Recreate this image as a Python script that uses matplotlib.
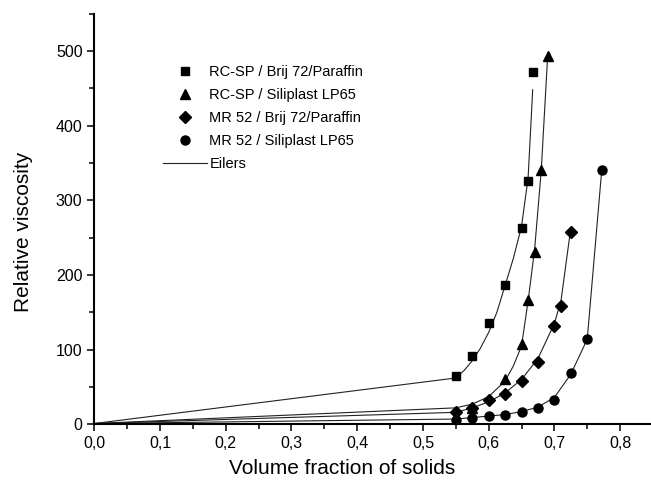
import matplotlib
matplotlib.use("Agg")
import matplotlib.pyplot as plt
from matplotlib.ticker import MultipleLocator, FuncFormatter
from matplotlib.lines import Line2D

plt.rcParams['font.family'] = ['Liberation Sans', 'DejaVu Sans']

# measured points
sq_x = [0.55, 0.575, 0.6, 0.625, 0.65, 0.66, 0.667]
sq_y = [65, 91, 135, 186, 263, 326, 472]

tri_x = [0.575, 0.625, 0.65, 0.66, 0.67, 0.68, 0.69]
tri_y = [22, 60, 107, 167, 231, 340, 493]

dia_x = [0.55, 0.575, 0.6, 0.625, 0.65, 0.675, 0.7, 0.71, 0.725]
dia_y = [17, 22, 33, 41, 58, 84, 131, 158, 257]

cir_x = [0.55, 0.575, 0.6, 0.625, 0.65, 0.675, 0.7, 0.725, 0.75, 0.772]
cir_y = [6, 9, 11, 12, 16, 22, 33, 69, 114, 341]

# Eilers fit curves
sq_fit_x = [0, 0.55, 0.5625, 0.575, 0.5875, 0.6, 0.6125, 0.625, 0.6375, 0.65, 0.66, 0.667]
sq_fit_y = [1, 62, 72, 85, 102, 123, 150, 186, 222, 265, 330, 448]

tri_fit_x = [0, 0.55, 0.575, 0.6, 0.625, 0.6375, 0.65, 0.66, 0.67, 0.68, 0.69]
tri_fit_y = [1, 22, 27, 37, 58, 78, 105, 165, 235, 340, 497]

dia_fit_x = [0, 0.55, 0.575, 0.6, 0.625, 0.65, 0.675, 0.7, 0.71, 0.723]
dia_fit_y = [1, 16, 22, 30, 42, 60, 88, 135, 165, 250]

cir_fit_x = [0, 0.55, 0.575, 0.6, 0.625, 0.65, 0.675, 0.7, 0.725, 0.75, 0.772]
cir_fit_y = [1, 7, 9, 11, 13, 17, 23, 36, 67, 114, 340]

labels = ["RC-SP / Brij 72/Paraffin", "RC-SP / Siliplast LP65",
          "MR 52 / Brij 72/Paraffin", "MR 52 / Siliplast LP65", "Eilers"]

fig = plt.figure(figsize=(6.51, 4.86), dpi=100)
ax = fig.add_axes([0.1449, 0.127, 0.8551, 0.845])

fit_kw = dict(color="#222222", lw=0.8, zorder=2)
ax.plot(sq_fit_x, sq_fit_y, **fit_kw)
ax.plot(tri_fit_x, tri_fit_y, **fit_kw)
ax.plot(dia_fit_x, dia_fit_y, **fit_kw)
ax.plot(cir_fit_x, cir_fit_y, **fit_kw)

ax.plot(sq_x, sq_y, "s", color="black", ms=6, zorder=3)
ax.plot(tri_x, tri_y, "^", color="black", ms=7.5, zorder=3)
ax.plot(dia_x, dia_y, "D", color="black", ms=6, zorder=3)
ax.plot(cir_x, cir_y, "o", color="black", ms=6.5, zorder=3)

ax.set_xlim(0, 0.847)
ax.set_ylim(0, 550)

for s in ["top", "right"]:
    ax.spines[s].set_visible(False)
for s in ["left", "bottom"]:
    ax.spines[s].set_linewidth(1.5)

ax.xaxis.set_major_locator(MultipleLocator(0.1))
ax.xaxis.set_minor_locator(MultipleLocator(0.05))
ax.yaxis.set_major_locator(MultipleLocator(100))
ax.yaxis.set_minor_locator(MultipleLocator(50))
ax.xaxis.set_major_formatter(FuncFormatter(lambda v, p: f"{v:.1f}".replace(".", ",")))
ax.tick_params(which="major", direction="out", length=5, width=1.1, labelsize=11.5)
ax.tick_params(which="minor", direction="out", length=3.5, width=1.1)

ax.set_xlabel("Volume fraction of solids", fontsize=15)
ax.set_ylabel("Relative viscosity", fontsize=15)
ax.xaxis.set_label_coords(0.445, -0.085)
ax.yaxis.set_label_coords(-0.11, 0.468)

handles = [
    Line2D([], [], ls="none", marker="s", color="black", ms=6),
    Line2D([], [], ls="none", marker="^", color="black", ms=7.5),
    Line2D([], [], ls="none", marker="D", color="black", ms=6),
    Line2D([], [], ls="none", marker="o", color="black", ms=6.5),
    Line2D([], [], color="#222222", lw=0.8),
]
fig.legend(handles, labels, loc="upper left", bbox_to_anchor=(0.25, 0.866),
           frameon=False, fontsize=10.5, handlelength=3.0, handletextpad=0.2,
           labelspacing=0.62, borderpad=0, borderaxespad=0)

fig.savefig("out.png", dpi=100)
